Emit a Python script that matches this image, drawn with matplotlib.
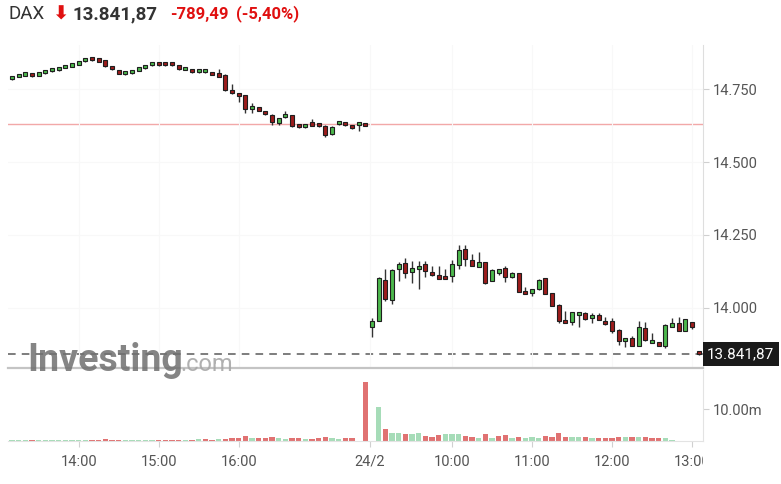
import matplotlib
matplotlib.use("Agg")
import matplotlib.pyplot as plt
from matplotlib.transforms import Bbox, TransformedBbox, blended_transform_factory

plt.rcParams['font.family'] = ['Roboto', 'DejaVu Sans']

# 5-minute candles: 23/2 13:10-17:35, then 24/2 09:00-13:05
opens = [14783, 14792, 14796, 14797, 14796, 14805, 14812, 14814, 14823, 14827,
         14834, 14845, 14850, 14847, 14849, 14823, 14816, 14800, 14804, 14813,
         14822, 14831, 14834, 14834, 14834, 14832, 14816, 14812, 14808, 14809,
         14803, 14797, 14798, 14740, 14733, 14729, 14681, 14682, 14671, 14661,
         14633, 14654, 14661, 14626, 14620, 14630, 14629, 14624, 14596, 14629,
         14633, 14622, 14626, 14629,
         13934, 13956, 14096, 14026, 14132, 14153, 14124, 14134, 14150, 14123,
         14114, 14106, 14111, 14147, 14202, 14164, 14141, 14156, 14093, 14121,
         14136, 14107, 14119, 14058, 14052, 14064, 14102, 14050, 14010, 13959,
         13951, 13976, 13984, 13965, 13976, 13956, 13955, 13925, 13885, 13896,
         13871, 13932, 13880, 13882, 13870, 13936, 13947, 13922, 13951, 13845]
highs = [14789, 14797, 14800, 14799, 14800, 14809, 14816, 14818, 14827, 14830,
         14838, 14850, 14851, 14848, 14850, 14824, 14817, 14805, 14808, 14817,
         14827, 14838, 14836, 14835, 14835, 14834, 14821, 14813, 14813, 14815,
         14804, 14818, 14800, 14767, 14735, 14730, 14703, 14690, 14674, 14663,
         14652, 14675, 14662, 14628, 14628, 14646, 14632, 14627, 14622, 14637,
         14635, 14623, 14634, 14631,
         13965, 14106, 14132, 14132, 14156, 14170, 14161, 14162, 14162, 14142,
         14144, 14132, 14164, 14216, 14216, 14184, 14193, 14158, 14132, 14135,
         14143, 14124, 14121, 14070, 14066, 14098, 14104, 14052, 14012, 13991,
         13987, 13986, 13986, 13984, 13984, 13968, 13965, 13927, 13898, 13905,
         13955, 13950, 13913, 13884, 13945, 13967, 13970, 13963, 13953, 13846]
lows = [14781, 14790, 14794, 14792, 14794, 14803, 14810, 14812, 14821, 14825,
        14832, 14843, 14846, 14842, 14826, 14817, 14800, 14798, 14802, 14811,
        14820, 14829, 14829, 14829, 14829, 14816, 14814, 14806, 14805, 14806,
        14797, 14792, 14745, 14734, 14706, 14668, 14669, 14674, 14662, 14628,
        14626, 14652, 14621, 14617, 14618, 14624, 14620, 14587, 14594, 14627,
        14625, 14614, 14606, 14622,
        13900, 13954, 14025, 14014, 14092, 14104, 14087, 14066, 14107, 14110,
        14098, 14098, 14090, 14132, 14144, 14142, 14140, 14083, 14091, 14112,
        14090, 14102, 14054, 14047, 14042, 14062, 14046, 14006, 13947, 13947,
        13942, 13936, 13959, 13949, 13957, 13942, 13915, 13873, 13865, 13869,
        13869, 13888, 13878, 13868, 13862, 13934, 13920, 13920, 13928, 13840]
closes = [14787, 14795, 14798, 14794, 14799, 14808, 14815, 14816, 14826, 14829,
          14837, 14848, 14848, 14844, 14828, 14819, 14802, 14803, 14807, 14816,
          14826, 14835, 14831, 14831, 14831, 14818, 14819, 14808, 14810, 14813,
          14799, 14793, 14747, 14736, 14726, 14680, 14688, 14676, 14664, 14638,
          14650, 14660, 14623, 14619, 14627, 14625, 14623, 14592, 14621, 14636,
          14627, 14616, 14632, 14624,
          13956, 14104, 14030, 14130, 14150, 14121, 14136, 14145, 14127, 14112,
          14100, 14100, 14150, 14199, 14168, 14144, 14156, 14085, 14130, 14132,
          14107, 14119, 14056, 14048, 14064, 14096, 14048, 14008, 13956, 13948,
          13985, 13984, 13961, 13976, 13959, 13944, 13922, 13885, 13896, 13871,
          13934, 13890, 13890, 13871, 13942, 13947, 13922, 13961, 13936, 13842]

# volume in millions, direction 1 = up (green), -1 = down (red)
volumes = [0.25, 0.25, 0.25, 0.25, 0.25, 0.25, 0.25, 0.25, 0.25, 0.25,
           0.25, 0.25, 0.25, 0.25, 0.6, 0.25, 0.25, 0.25, 0.25, 0.25,
           0.25, 0.25, 0.25, 0.25, 0.25, 0.25, 0.25, 0.25, 0.5, 0.5,
           0.2, 0.5, 0.7, 0.95, 0.95, 1.7, 0.95, 0.95, 0.95, 1.27,
           0.9, 0.55, 0.95, 0.95, 0.6, 0.6, 0.95, 1.37, 0.95, 0.6,
           0.95, 0.95, 0.15, 18.7,
           0.0, 10.7, 3.7, 2.4, 2.4, 2.1, 2.1, 2.4, 1.7, 1.26,
           1.8, 2.1, 2.1, 2.1, 1.7, 1.26, 0.95, 2.1, 0.95, 1.5,
           1.8, 0.95, 1.4, 0.95, 1.26, 0.95, 1.7, 1.26, 2.4, 1.4,
           1.26, 1.26, 1.4, 0.95, 0.95, 0.95, 1.05, 1.4, 1.4, 1.4,
           1.4, 1.4, 0.95, 0.95, 0.95, 0.3, 0.0, 0.0, 0.0, 0.0]
vol_dir = [1, 1, 1, -1, 1, 1, 1, 1, 1, 1,
           1, 1, -1, -1, -1, -1, -1, 1, 1, 1,
           1, 1, -1, -1, -1, -1, 1, -1, 1, -1,
           -1, 1, -1, -1, -1, -1, 1, -1, -1, -1,
           1, 1, -1, -1, 1, -1, -1, -1, 1, 1,
           -1, -1, 1, -1,
           1, 1, -1, 1, 1, -1, 1, 1, -1, -1,
           -1, 1, 1, 1, -1, -1, 1, -1, 1, -1,
           -1, 1, -1, 1, 1, 1, -1, -1, -1, -1,
           1, 1, -1, 1, -1, -1, -1, -1, 1, -1,
           1, -1, -1, -1, 1, 1, -1, 1, -1, -1]

tick_pos = [10, 22, 34, 53.7, 66, 78, 90, 102]
tick_labels = ['14:00', '15:00', '16:00', '24/2', '10:00', '11:00', '12:00', '13:00']
price_ticks = [14000, 14250, 14500, 14750]
prev_close = 14631.36
last_price = 13841.87

GREEN = '#4cb84c'
RED = '#9c1c1c'
VGREEN = '#a6dcb8'
VRED = '#e07272'

fig = plt.figure(figsize=(7.81, 4.84), dpi=100)
fig.patch.set_facecolor('white')
ax = fig.add_axes([8 / 781, 1 - 368 / 484, 695 / 781, 323 / 484])
axv = fig.add_axes([8 / 781, 1 - 441 / 484, 695 / 781, 71 / 484], sharex=ax)

x = list(range(len(closes)))
min_body = 11
bottoms = [min(o, c) for o, c in zip(opens, closes)]
heights = [max(abs(c - o), min_body) for o, c in zip(opens, closes)]
cols = [GREEN if c >= o else RED for o, c in zip(opens, closes)]

ax.vlines(x, lows, highs, color='#333333', lw=1, zorder=2)
ax.bar(x, heights, bottom=bottoms, width=0.64, color=cols,
       edgecolor='#1e1e1e', linewidth=0.8, zorder=3)

ax.axhline(prev_close, color='#f2a8a8', lw=1, zorder=1)
ax.axhline(last_price, color='#5a5a5a', lw=1.1, ls=(0, (5, 4)), zorder=1)

ax.set_xlim(-0.6, 103.65)
ax.set_ylim(13794, 14901)
ax.yaxis.tick_right()
ax.set_yticks(price_ticks)
ax.set_yticklabels([f"{v:,.0f}".replace(',', '.') for v in price_ticks])
ax.tick_params(axis='y', length=4, color='#d0d0d0', labelcolor='#555555',
               labelsize=10.5, pad=3)
ax.tick_params(axis='x', bottom=False, labelbottom=False)
ax.set_xticks(tick_pos)
ax.grid(True, color='#f8f8f8', lw=0.8, zorder=0)
for s in ['top', 'left']:
    ax.spines[s].set_visible(False)
ax.spines['right'].set_color('#dedede')
ax.spines['bottom'].set_color('#c4c4c4')
ax.spines['bottom'].set_linewidth(1.6)

tr = blended_transform_factory(ax.transAxes, ax.transData)
ax.text(1.006, last_price, '13.841,87', transform=tr, ha='left', va='center',
        color='white', fontsize=11, clip_on=False,
        bbox=dict(boxstyle='square,pad=0.3', fc='#1a1a1a', ec='none'))

vcols = [VGREEN if d > 0 else VRED for d in vol_dir]
axv.bar(x, volumes, width=0.78, color=vcols, zorder=2)
axv.set_ylim(0, 22.4)
axv.yaxis.tick_right()
axv.set_yticks([10])
axv.set_yticklabels(['10.00m'])
axv.tick_params(axis='y', length=4, color='#d0d0d0', labelcolor='#555555',
                labelsize=10.5, pad=3)
axv.set_xticks(tick_pos)
axv.set_xticklabels(tick_labels)
axv.tick_params(axis='x', length=4, color='#d0d0d0', labelcolor='#555555',
                labelsize=10.5, pad=6)
for s in ['top', 'left']:
    axv.spines[s].set_visible(False)
axv.spines['right'].set_color('#e3e3e3')
axv.spines['bottom'].set_color('#e3e3e3')

# last hour label is cut at the chart edge
clip = TransformedBbox(Bbox([[0, 0], [703 / 781, 1]]), fig.transFigure)
for lab in axv.get_xticklabels():
    lab.set_clip_box(clip)
    lab.set_clip_on(True)

# header
fig.text(8 / 781, 1 - 14 / 484, 'DAX', fontsize=13.5, color='#333333', va='center')
fig.text(52 / 781, 1 - 14 / 484, '⬇', fontsize=14, color='#e01010', va='center',
         family=['DejaVu Sans'], fontweight='bold')
fig.text(73 / 781, 1 - 14 / 484, '13.841,87', fontsize=13.5, fontweight='bold',
         color='#333333', va='center')
fig.text(170 / 781, 1 - 14 / 484, '-789,49', fontsize=12,
         fontweight='bold', color='#e01010', va='center')
fig.text(236 / 781, 1 - 14 / 484, '(-5,40%)', fontsize=12,
         fontweight='bold', color='#e01010', va='center')

# watermark
fig.text(27 / 781, 1 - 371 / 484, 'Investing', fontsize=27, fontweight='bold',
         color='#707070', alpha=0.85, va='baseline')
fig.text(180 / 781, 1 - 371 / 484, '.com', fontsize=17, color='#a8a8a8',
         alpha=0.9, va='baseline')

fig.savefig('out.png', dpi=100, facecolor='white')
